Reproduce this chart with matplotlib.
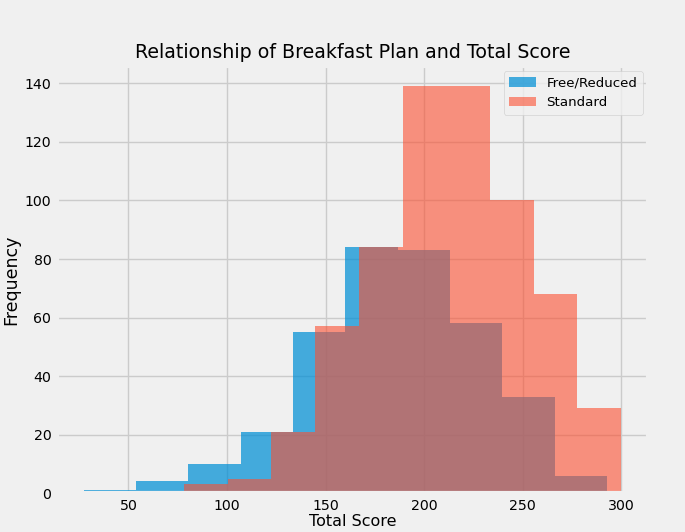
import numpy as np
import matplotlib
matplotlib.use("Agg")
import matplotlib.pyplot as plt

plt.style.use("fivethirtyeight")

# histogram counts (10 bins each)
free_counts = [1, 4, 10, 21, 55, 84, 83, 58, 33, 6]
free_range = (27.3, 292.9)
std_counts = [3, 5, 21, 57, 84, 139, 139, 100, 68, 29]
std_range = (78.2, 300.0)

free_edges = np.linspace(free_range[0], free_range[1], len(free_counts) + 1)
std_edges = np.linspace(std_range[0], std_range[1], len(std_counts) + 1)

fig, ax = plt.subplots(figsize=(6.85, 5.32), dpi=100)
fig.subplots_adjust(left=0.083, right=0.946, bottom=0.073, top=0.876)

ax.hist(free_edges[:-1], bins=free_edges, weights=free_counts,
        alpha=0.72, label="Free/Reduced")
ax.hist(std_edges[:-1], bins=std_edges, weights=std_counts,
        alpha=0.6, label="Standard")

ax.set_title("Relationship of Breakfast Plan and Total Score", fontsize=13.7)
ax.set_xlabel("Total Score", fontsize=11.5, labelpad=1)
ax.set_ylabel("Frequency", fontsize=12.5, labelpad=3)
ax.tick_params(labelsize=10.2, pad=4)
ax.legend(loc="upper right", fontsize=9.6, borderaxespad=0.4)

fig.savefig("out.png", dpi=100)
